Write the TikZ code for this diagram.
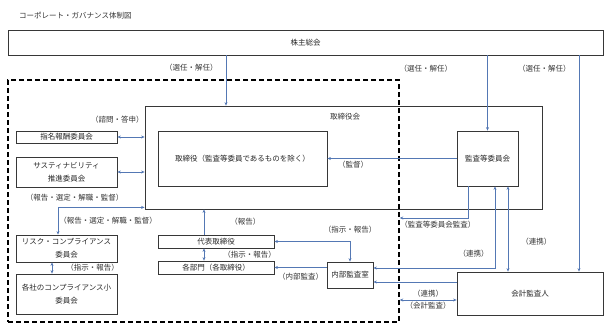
\documentclass[tikz,border=0pt]{standalone}
\usepackage{fontspec}
\setmainfont{Noto Sans CJK JP}
\usetikzlibrary{arrows.meta, positioning}
\definecolor{linkblue}{RGB}{84,120,180}
\definecolor{boxgray}{RGB}{55,55,55}

\begin{document}
\begin{tikzpicture}[
    x=1pt, y=-1pt,
    box/.style={rectangle, draw=boxgray, line width=0.8pt, inner sep=0pt, align=center, text=black!85, font=\fontsize{7.5}{13}\selectfont},
    groupbox/.style={rectangle, draw=black, line width=1.4pt, dash pattern=on 5pt off 3pt},
    arrow/.style={-{Stealth[length=3.5pt, width=3pt]}, linkblue, line width=0.7pt},
    biarrow/.style={{Stealth[length=3.5pt, width=3pt]}-{Stealth[length=3.5pt, width=3pt]}, linkblue, line width=0.7pt},
    lbl/.style={font=\fontsize{7.5}{9}\selectfont, text=black!80, inner sep=1pt},
]
\useasboundingbox (0,0) rectangle (605,325);

% Title
\node[lbl, anchor=west] (title) at (18,16) {コーポレート・ガバナンス体制図};

% Shareholders and the dashed group
\node[box, minimum width=595pt, minimum height=25pt] (meeting) at (305.5,42.5) {株主総会};
\node[groupbox, minimum width=391pt, minimum height=242pt] (group) at (203.5,201) {};

% Board
\node[box, minimum width=397pt, minimum height=103pt] (board) at (343.5,157.5) {};
\node[lbl] (boardtitle) at (345,117) {取締役会};
\node[box, minimum width=169pt, minimum height=55pt] (directors) at (242.5,158.5) {取締役（監査等委員であるものを除く）};
\node[box, minimum width=61pt, minimum height=55pt] (auditcom) at (487.5,158.5) {監査等委員会};

% Committees
\node[box, minimum width=101pt, minimum height=12pt] (nomination) at (66.5,137) {指名報酬委員会};
\node[box, minimum width=101pt, minimum height=30pt] (sustain) at (66.5,172) {サスティナビリティ\\推進委員会};
\node[box, minimum width=101pt, minimum height=27pt] (risk) at (66.5,248.5) {リスク・コンプライアンス\\委員会};
\node[box, minimum width=101pt, minimum height=40pt] (subcom) at (66.5,294) {各社のコンプライアンス小\\委員会};

% Executive side
\node[box, minimum width=116pt, minimum height=13pt] (ceo) at (216,241.5) {代表取締役};
\node[box, minimum width=116pt, minimum height=13pt] (depts) at (216,267.5) {各部門（各取締役）};
\node[box, minimum width=46pt, minimum height=26pt] (internal) at (350,275) {内部監査室};
\node[box, minimum width=146pt, minimum height=43pt] (accountant) at (530,293.5) {会計監査人};

% Appointment
\draw[arrow] (226,0 |- meeting.south) -- node[lbl, pos=.25, left=7pt] (selboard) {（選任・解任）} (226,0 |- board.north);
\draw[arrow] (meeting.south -| auditcom.north) -- node[lbl, pos=.17, left=34pt] (selaudit) {（選任・解任）} (auditcom.north);
\draw[arrow] (579,0 |- meeting.south) -- node[lbl, pos=.06, left=7pt] (selacct) {（選任・解任）} (579,0 |- accountant.north);

% Board relations
\draw[arrow] (auditcom.west) -- node[lbl, pos=.8, below=1pt] (supervise) {（監督）} (directors.east);
\draw[biarrow] (nomination.east) -- node[lbl, pos=0, above=12pt] (consult) {（諮問・答申）} (nomination.east -| board.west);
\draw[biarrow] (sustain.east) -- (sustain.east -| board.west);
\node[lbl, below=5pt of sustain, xshift=8pt] (sustainrep) {（報告・選定・解職・監督）};
\draw[biarrow] (58,0 |- risk.north) |- node[lbl, pos=.25, right] (riskrep) {（報告・選定・解職・監督）} ([yshift=2pt]board.south west);
\draw[biarrow] (52,0 |- risk.south) -- node[lbl, right=13pt] (riskord) {（指示・報告）} (52,0 |- subcom.north);

% Executive relations
\draw[arrow] (204,0 |- ceo.north) -- node[lbl, right=25pt] (ceorep) {（報告）} (204,0 |- board.south);
\draw[biarrow] (204,0 |- ceo.south) -- node[lbl, right=18pt] (deptord) {（指示・報告）} (204,0 |- depts.north);
\draw[biarrow] (internal.north) |- node[lbl, pos=.5, above=7pt] (intord) {（指示・報告）} (ceo.east);
\draw[arrow] (internal.west |- depts.east) -- node[lbl, below=4pt] (intaudit) {（内部監査）} (depts.east);

% Audit relations
\draw[biarrow] (495,0 |- auditcom.south) |- node[lbl, pos=.41, left=5pt] (coop1) {（連携）} (internal.east |- 0,268);
\draw[arrow] (accountant.west |- 0,282) -- (internal.east |- 0,282);
\draw[arrow] (468,0 |- auditcom.south) |- node[lbl, pos=.72, below=2pt] (comaudit) {（監査等委員会監査）} (group.east |- 0,218);
\draw[biarrow] (508,0 |- auditcom.south) -- node[lbl, pos=.65, right=12pt] (coop2) {（連携）} (508,0 |- accountant.north);
\draw[biarrow] (group.east |- 0,300) -- node[lbl, above=1pt] (coop3) {（連携）} node[lbl, below=1pt] (acctaudit) {（会計監査）} (accountant.west |- 0,300);

\end{tikzpicture}
\end{document}
